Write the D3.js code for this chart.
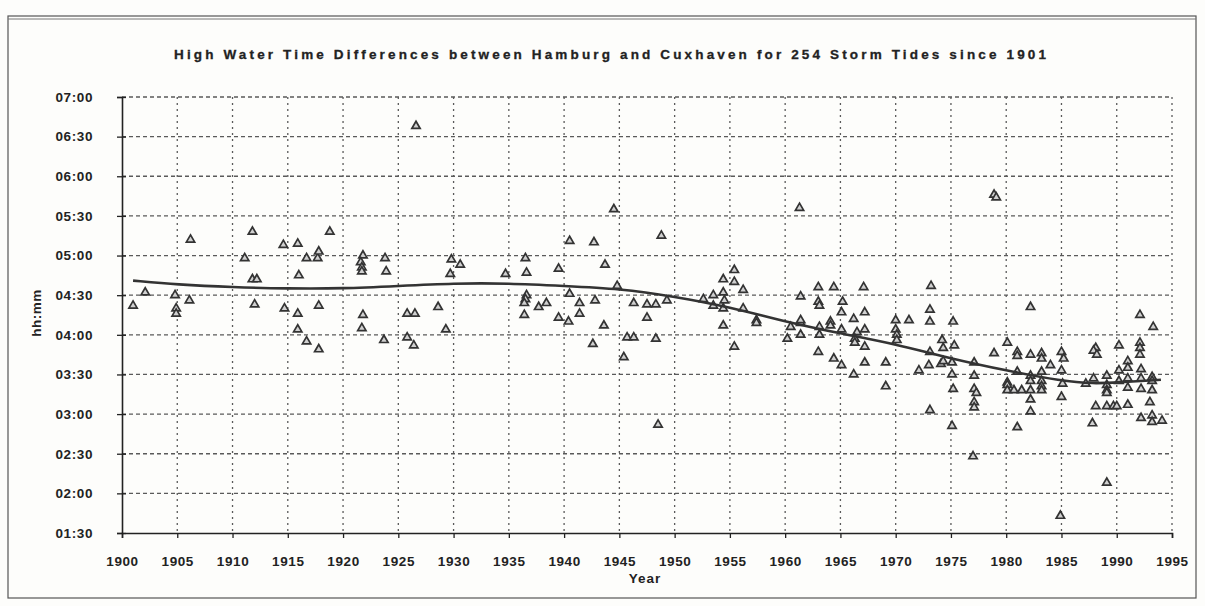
<!DOCTYPE html>
<html>
<head>
<meta charset="utf-8">
<script src="https://cdn.jsdelivr.net/npm/d3@7"></script>
<style>
  html, body { margin: 0; padding: 0; background: #fdfdfb; }
  svg { display: block; font-family: "Liberation Sans", Arial, sans-serif; }
</style>
</head>
<body>
<svg id="chart" width="1205" height="606"></svg>
<script>
// ---- Data ----
const title = "High Water Time Differences between Hamburg and Cuxhaven for 254 Storm Tides since 1901";
const xTickYears = [1900,1905,1910,1915,1920,1925,1930,1935,1940,1945,1950,1955,1960,1965,1970,1975,1980,1985,1990,1995];
const yTickLabels = ["01:30","02:00","02:30","03:00","03:30","04:00","04:30","05:00","05:30","06:00","06:30","07:00"];

const tideYears = [
 1901.0,1902.1,1904.8,1904.9,1904.9,1906.2,1906.1,1911.1,1911.8,1911.8,1912.2,1912.0,1914.6,1914.7,1915.9,1918.8,1916.7,1917.7,1917.8,1916.0,
 1915.9,1915.9,1916.7,1917.8,1917.8,1921.8,1921.6,1921.7,1921.7,1921.8,1921.7,1923.8,1923.9,1923.7,1926.6,1925.8,1926.5,1925.8,1926.4,1928.6,
 1929.3,1929.8,1930.6,1929.7,1934.7,1936.5,1936.6,1936.6,1936.5,1936.4,1936.4,1937.7,1938.4,1939.5,1939.5,1940.5,1940.5,1940.4,1941.4,1941.4,
 1942.7,1942.8,1943.7,1943.6,1942.6,1944.5,1944.8,1946.3,1945.7,1946.3,1945.4,1947.5,1948.3,1949.3,1947.5,1948.3,1948.8,1948.5,1961.3,1952.6,
 1953.5,1954.4,1955.4,1955.4,1956.2,1954.4,1954.5,1953.5,1954.4,1956.2,1957.4,1957.4,1954.4,1955.4,1960.5,1961.4,1961.4,1960.2,1961.4,1963.0,
 1964.4,1961.4,1963.0,1963.1,1964.1,1964.1,1963.1,1963.1,1963.0,1964.4,1967.1,1973.2,1965.2,1965.1,1967.2,1966.2,1965.1,1966.5,1967.2,1966.3,
 1966.3,1967.2,1965.1,1967.2,1966.2,1969.1,1969.1,1970.0,1971.2,1970.0,1970.1,1970.1,1973.1,1973.1,1974.2,1974.3,1975.2,1975.3,1973.1,1972.1,
 1973.0,1974.1,1974.3,1975.1,1975.1,1975.2,1973.1,1975.1,1977.1,1977.1,1977.1,1977.3,1977.1,1977.1,1977.0,1978.9,1979.1,1978.9,1982.2,1980.1,
 1980.1,1980.1,1980.1,1981.0,1981.0,1981.0,1980.7,1981.4,1981.0,1982.2,1982.2,1982.2,1982.2,1982.2,1982.2,1983.2,1983.2,1983.2,1983.2,1983.2,
 1983.2,1984.0,1985.0,1985.2,1985.0,1985.1,1985.0,1984.9,1987.8,1988.1,1988.1,1987.9,1988.2,1987.2,1987.9,1989.1,1989.1,1989.1,1989.1,1989.1,
 1989.7,1990.0,1989.1,1990.2,1990.2,1990.2,1991.0,1991.0,1991.0,1991.0,1991.0,1992.1,1992.1,1992.1,1992.1,1992.2,1992.2,1992.2,1992.2,1993.3,
 1993.2,1993.2,1993.2,1993.0,1993.2,1993.2,1994.1
];
const tideTimes = [
 "04:22","04:32","04:30","04:20","04:16","05:12","04:26","04:58","05:18","04:42","04:42","04:23","05:08","04:20","05:09","05:18","04:58","04:58","05:03","04:45",
 "04:16","04:04","03:55","04:22","03:49","05:00","04:55","04:51","04:48","04:15","04:05","04:58","04:48","03:56","06:38","04:16","04:16","03:58","03:52","04:21",
 "04:04","04:57","04:53","04:46","04:46","04:58","04:47","04:30","04:27","04:24","04:15","04:21","04:24","04:50","04:13","05:11","04:31","04:10","04:24","04:16",
 "05:10","04:26","04:53","04:07","03:53","05:35","04:37","04:24","03:58","03:58","03:43","04:23","04:23","04:26","04:13","03:57","05:15","02:52","05:36","04:27",
 "04:30","04:42","04:49","04:40","04:34","04:32","04:26","04:22","04:20","04:20","04:11","04:09","04:07","03:51","04:06","04:09","04:11","03:57","04:00","04:36",
 "04:36","04:29","04:25","04:22","04:10","04:07","04:00","04:06","03:47","03:42","04:36","04:37","04:25","04:17","04:17","04:12","04:04","04:02","04:04","03:57",
 "03:54","03:51","03:37","03:39","03:30","03:39","03:21","04:11","04:11","04:04","04:00","03:56","04:19","04:10","03:56","03:50","04:10","03:52","03:47","03:33",
 "03:37","03:38","03:40","03:39","03:30","03:19","03:03","02:51","03:39","03:29","03:19","03:16","03:09","03:05","02:28","05:46","05:44","03:46","04:21","03:54",
 "03:24","03:22","03:18","03:47","03:44","03:32","03:18","03:18","02:50","03:45","03:29","03:25","03:18","03:11","03:02","03:46","03:42","03:32","03:25","03:21",
 "03:18","03:37","03:47","03:42","03:33","03:23","03:13","01:43","02:53","03:06","03:50","03:48","03:45","03:23","03:27","03:22","03:29","03:18","03:16","03:06",
 "03:06","03:06","02:08","03:52","03:33","03:25","03:40","03:35","03:27","03:20","03:07","04:15","03:54","03:50","03:45","03:34","03:27","03:19","02:57","04:06",
 "03:28","03:25","03:18","03:09","02:59","02:54","02:55"
];

const trendYears = [1901,1905,1910,1915,1920,1925,1930,1935,1940,1945,1950,1955,1960,1965,1970,1975,1980,1985,1988,1990,1994];
const trendTimes = ["04:41","04:38","04:36","04:35","04:35","04:37","04:39","04:39","04:37","04:35","04:29","04:21","04:10","04:01","03:53","03:42","03:33","03:25","03:23","03:24","03:26"];

// ---- Helpers ----
const toMin = s => { const [h, m] = s.split(":").map(Number); return h * 60 + m; };

const svg = d3.select("#chart");
const ink = "#222";

// outer frame
svg.append("rect").attr("x", 8).attr("y", 16).attr("width", 1188).attr("height", 582)
  .attr("fill", "none").attr("stroke", "#555").attr("stroke-width", 1.2);
svg.append("line").attr("x1", 8).attr("x2", 1196).attr("y1", 19).attr("y2", 19)
  .attr("stroke", "#777").attr("stroke-width", 1);

// title
svg.append("text").attr("x", 610).attr("y", 59).attr("text-anchor", "middle")
  .attr("font-size", 13.5).attr("font-weight", "bold").attr("fill", ink)
  .attr("stroke", ink).attr("stroke-width", 0.3)
  .attr("textLength", 872).attr("lengthAdjust", "spacing")
  .text(title);

// scales
const x = d3.scaleLinear().domain([1900, 1995]).range([122, 1172]);
const yTickVals = yTickLabels.map(toMin);
const y = d3.scaleLinear().domain([d3.min(yTickVals), d3.max(yTickVals)]).range([533, 97]);

// grid
const grid = svg.append("g");
grid.selectAll("line.h").data(yTickVals.slice(1)).join("line")
  .attr("x1", x(1900)).attr("x2", x(1995))
  .attr("y1", d => y(d)).attr("y2", d => y(d))
  .attr("stroke", "#5a5a5a").attr("stroke-width", 1.3).attr("stroke-dasharray", "4,3");
grid.selectAll("line.v").data(xTickYears.slice(1)).join("line")
  .attr("x1", d => x(d)).attr("x2", d => x(d))
  .attr("y1", y(d3.max(yTickVals))).attr("y2", y(d3.min(yTickVals)))
  .attr("stroke", "#5a5a5a").attr("stroke-width", 1.3).attr("stroke-dasharray", "2,4");

// axes
const yAxis = d3.axisLeft(y).tickValues(yTickVals).tickFormat((d, i) => yTickLabels[i])
  .tickSize(5).tickPadding(24);
const gy = svg.append("g").attr("transform", `translate(${x(1900)},0)`).call(yAxis);
const xAxis = d3.axisBottom(x).tickValues(xTickYears).tickFormat(d3.format("d"))
  .tickSize(5).tickPadding(18);
const gx = svg.append("g").attr("transform", `translate(0,${y(d3.min(yTickVals))})`).call(xAxis);
[gx, gy].forEach(g => {
  g.select(".domain").attr("stroke", ink).attr("stroke-width", 1.6);
  g.selectAll(".tick line").attr("stroke", ink).attr("stroke-width", 1.3);
  g.selectAll(".tick text").attr("fill", ink).attr("font-size", 13.5)
    .attr("font-weight", "bold").attr("letter-spacing", 0.6)
    .attr("font-family", "'Liberation Sans', Arial, sans-serif");
});
gy.selectAll(".tick line").attr("x1", 4);

// axis titles
svg.append("text").attr("x", 645).attr("y", 583).attr("text-anchor", "middle")
  .attr("font-size", 13.5).attr("font-weight", "bold").attr("letter-spacing", 1).attr("fill", ink).text("Year");
svg.append("text").attr("transform", "translate(41,313) rotate(-90)").attr("text-anchor", "middle")
  .attr("font-size", 13.5).attr("font-weight", "bold").attr("letter-spacing", 0.5).attr("fill", ink).text("hh:mm");

// points
const tri = d3.symbol().type(d3.symbolTriangle).size(30);
const pts = tideYears.map((yr, i) => ({ yr, t: toMin(tideTimes[i]) }));
svg.append("g").selectAll("path").data(pts).join("path")
  .attr("d", tri)
  .attr("transform", d => `translate(${x(d.yr)},${y(d.t)})`)
  .attr("fill", "#d0d0d0").attr("stroke", "#333").attr("stroke-width", 1.7);

// trend line
const trend = trendYears.map((yr, i) => ({ yr, t: toMin(trendTimes[i]) }));
svg.append("path").datum(trend)
  .attr("d", d3.line().x(d => x(d.yr)).y(d => y(d.t)).curve(d3.curveBasis))
  .attr("fill", "none").attr("stroke", "#333").attr("stroke-width", 2.6);
</script>
</body>
</html>
